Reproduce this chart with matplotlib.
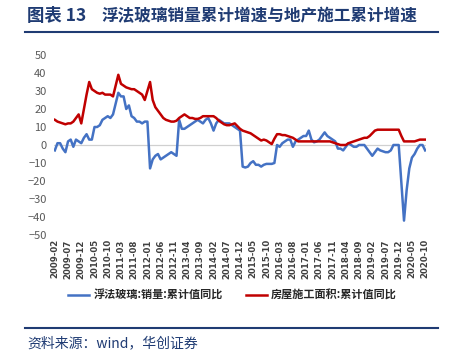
import matplotlib
matplotlib.use('Agg')
import matplotlib.pyplot as plt
import pandas as pd

plt.rcParams['font.family'] = ['Noto Sans CJK SC', 'DejaVu Sans']
plt.rcParams['axes.unicode_minus'] = True

# monthly, 2009-02 .. 2020-10 (141 points, 12 per row)
months = pd.date_range('2009-02-01', '2020-10-01', freq='MS').strftime('%Y-%m').tolist()

glass = [
    -3, 1, 1, -2, -4, 2, 3, -1, 3, 2, 1, 4,
    6, 3, 3, 10, 10, 11, 14, 15, 16, 15, 17, 23,
    29, 27, 27, 20, 22, 16, 15, 13, 13, 12, 13, 13,
    -13, -8, -6, -5, -8, -7, -6, -5, -4, -5, -6, 14,
    9, 9, 10, 11, 12, 13, 14, 13, 12, 14, 15, 12,
    8, 12, 14, 13, 12, 12, 12, 11, 10, 9, 8, -12,
    -12.5, -12, -10, -9, -11, -11, -12, -11, -10.5, -10.5, -10.5, -10,
    0, -1, 1, 2, 3, 3, -1, 2, 3, 4, 5, 5,
    8, 3, 1.5, 2, 3, 5, 7, 5, 4, 3, 2, -2,
    -2, -3, -1, 1, 0, -1, -1, 0, 0, 0, -2, -4,
    -6, -4, -2, -3, -3.5, -4, -4, -3, 0, 0, 0, -21,
    -42, -25, -13, -7, -5, -2, 0, 0, -3,
]

construction = [
    14, 13, 12.5, 12, 11.5, 12, 12, 13, 15, 17, 12, 20,
    28, 35, 31, 30, 29, 28.5, 29, 28, 28, 28, 27, 33,
    39, 34, 33, 32, 31.5, 31, 31, 30, 29, 28, 25, 30,
    35, 25, 21, 19, 17, 15, 14, 13.5, 13, 13, 13.5, 15,
    16, 17, 16, 15, 15, 14.5, 14.5, 15, 16, 16, 16, 16,
    16, 15, 13.5, 12.5, 11.5, 11, 11, 11.5, 12, 10.5, 9, 8,
    7.5, 7, 6.5, 5.5, 4.5, 3.5, 2.5, 3, 2.5, 1.5, 0.5, 3.5,
    6, 6, 5.5, 5.5, 5, 4.5, 4, 3, 2, 2, 2, 2,
    2, 2, 2, 2, 2, 2, 2, 2, 2, 1.5, 1, 0.5,
    0, 0, 0, 1, 1.5, 2, 2.5, 3, 3.5, 4, 4, 5,
    6.5, 8, 8.5, 8.5, 8.5, 8.5, 8.5, 8.5, 8.5, 8.5, 8.5, 5,
    2, 2, 2, 2, 2, 2.5, 3, 3, 3,
]

glass_label = '浮法玻璃:销量:累计值同比'
constr_label = '房屋施工面积:累计值同比'
title_no = '图表 13'
title = '浮法玻璃销量累计增速与地产施工累计增速'
source = '资料来源：wind，华创证券'
navy = '#1F3B73'

fig = plt.figure(figsize=(4.58, 3.6), dpi=100)
ax = fig.add_axes([53.5 / 458, 1 - 235 / 360, 373 / 458, 180 / 360])

x = list(range(len(months)))
l1, = ax.plot(x, glass, color='#4472C4', lw=1.8, label=glass_label)
l2, = ax.plot(x, construction, color='#C00000', lw=1.8, label=constr_label)
ax.axhline(0, color='#D0D0D0', lw=0.9, zorder=0)

ax.set_xlim(-0.5, len(months) - 0.5)
ax.set_ylim(-50, 50)
ax.set_yticks(range(-50, 51, 10))
ax.set_xticks(x[::5])
ax.set_xticklabels(months[::5], rotation=90, fontsize=6.2, fontweight='bold',
                   color='#404040', family='DejaVu Sans')
ax.tick_params(axis='y', labelsize=8, colors='#595959', length=0, pad=5)
ax.tick_params(axis='x', length=0, pad=3)
for s in ax.spines.values():
    s.set_visible(False)

fig.legend(handles=[l1, l2], loc='center', bbox_to_anchor=(0.508, 1 - 295 / 360),
           ncol=2, frameon=False, handlelength=1.9, handletextpad=0.4, columnspacing=2.0,
           prop={'size': 8, 'weight': 'bold'}, labelcolor='#262626')

fig.text(27 / 458, 1 - 16 / 360, title_no, fontsize=12.5, fontweight='bold',
         color=navy, va='center', ha='left')
fig.text(102 / 458, 1 - 16 / 360, title, fontsize=12, fontweight='bold',
         color=navy, va='center', ha='left')
fig.add_artist(plt.Line2D([25 / 458, 438 / 458], [1 - 32 / 360] * 2, color=navy, lw=1.5))
fig.add_artist(plt.Line2D([25 / 458, 438 / 458], [1 - 328 / 360] * 2, color=navy, lw=1.5))
fig.text(27 / 458, 1 - 343 / 360, source, fontsize=10, color=navy, va='center', ha='left')

fig.savefig('out.png', dpi=100)
